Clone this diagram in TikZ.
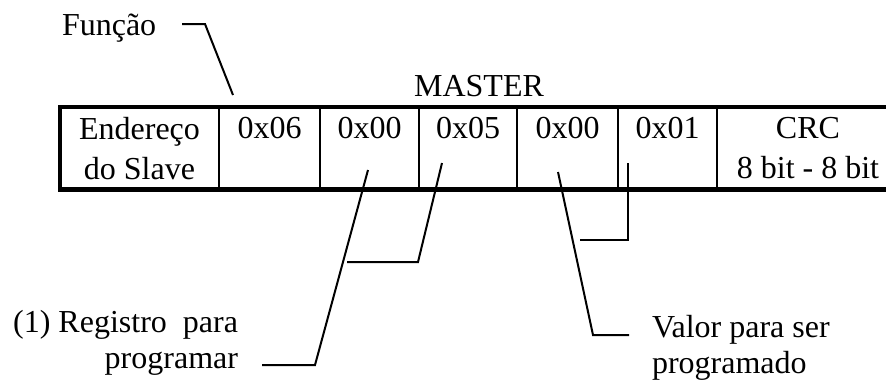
\documentclass[tikz,border=0pt]{standalone}
\usepackage{fontspec}
\setmainfont{Liberation Serif}
\begin{document}
\begin{tikzpicture}[x=1pt,y=-1pt,
  every node/.style={font=\fontsize{32}{40}\selectfont, inner sep=0pt, outer sep=0pt},
  cell/.style={draw, line width=2.2pt, minimum height=82.5pt, align=center, anchor=west},
  frame/.style={line width=4.6pt},
  leader/.style={line width=2pt},
  lbl/.style={font=\fontsize{32}{36}\selectfont}]
\useasboundingbox (0,0) rectangle (886,383);
% cells
\node[cell, minimum width=159pt] (c1) at (60,148.25) {Endereço\\do Slave};
\node[cell, minimum width=101pt] (c2) at (219,148.25) {0x06\\\phantom{0}};
\node[cell, minimum width=99pt]  (c3) at (320,148.25) {0x00\\\phantom{0}};
\node[cell, minimum width=98pt]  (c4) at (419,148.25) {0x05\\\phantom{0}};
\node[cell, minimum width=101pt] (c5) at (517,148.25) {0x00\\\phantom{0}};
\node[cell, minimum width=99pt]  (c6) at (618,148.25) {0x01\\\phantom{0}};
\node[cell, minimum width=182pt] (c7) at (717,148.25) {CRC\\8 bit - 8 bit};
\draw[frame] (c1.north west) rectangle (c7.south east);
% labels
\node[anchor=base] (master) at (479,96) {MASTER};
\node[anchor=base west] (fun) at (62,35) {Função};
\node[lbl, align=right, anchor=east] (reg) at (238,343) {(1) Registro\ \ para\\programar};
\node[lbl, align=left, anchor=west] (val) at (652,348) {Valor para ser\\programado};
% leader coordinates
\coordinate (f1) at (182,24);
\coordinate (f2) at (205,24);
\coordinate (f3) at (233,95);
\coordinate (r1) at (368,170);
\coordinate (r2) at (315,365);
\coordinate (r3) at (262,365);
\coordinate (p1) at (442,163);
\coordinate (p2) at (418,262);
\coordinate (p3) at (347,262);
\coordinate (v1) at (558,172);
\coordinate (v2) at (593,335);
\coordinate (v3) at (629,335);
\coordinate (w1) at (628,163);
\coordinate (w2) at (628,240);
\coordinate (w3) at (580,240);
\draw[leader] (f1) -- (f2) -- (f3);
\draw[leader] (r1) -- (r2) -- (r3);
\draw[leader] (p1) -- (p2) -- (p3);
\draw[leader] (v1) -- (v2) -- (v3);
\draw[leader] (w1) -- (w2) -- (w3);
\end{tikzpicture}
\end{document}
